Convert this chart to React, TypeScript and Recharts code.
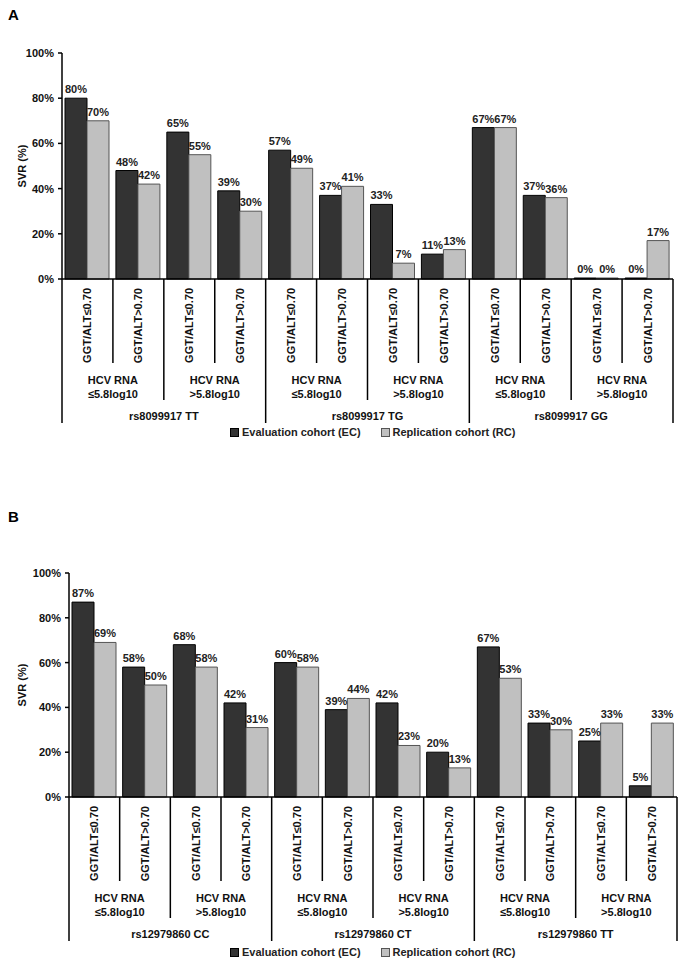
import React from "react";
import { BarChart, Bar, XAxis, YAxis, LabelList } from "recharts";

// sub-group (rotated) tick labels, same for both panels
const subgroups = [
  "GGT/ALT≤0.70", "GGT/ALT>0.70", "GGT/ALT≤0.70", "GGT/ALT>0.70",
  "GGT/ALT≤0.70", "GGT/ALT>0.70", "GGT/ALT≤0.70", "GGT/ALT>0.70",
  "GGT/ALT≤0.70", "GGT/ALT>0.70", "GGT/ALT≤0.70", "GGT/ALT>0.70",
];
const rnaGroups = ["≤5.8log10", ">5.8log10", "≤5.8log10", ">5.8log10", "≤5.8log10", ">5.8log10"];
const genotypesA = ["rs8099917 TT", "rs8099917 TG", "rs8099917 GG"];
const genotypesB = ["rs12979860 CC", "rs12979860 CT", "rs12979860 TT"];

const ecA = [80, 48, 65, 39, 57, 37, 33, 11, 67, 37, 0, 0];
const rcA = [70, 42, 55, 30, 49, 41, 7, 13, 67, 36, 0, 17];
const ecB = [87, 58, 68, 42, 60, 39, 42, 20, 67, 33, 25, 5];
const rcB = [69, 50, 58, 31, 58, 44, 23, 13, 53, 30, 33, 33];

const yTicks = [0, 20, 40, 60, 80, 100];

const FONT = "'Liberation Sans', Arial, sans-serif";
const DARK = "#333333";
const LIGHT = "#c0c0c0";

function makeRows(ec: number[], rc: number[]) {
  return ec.map((v, i) => ({ key: String(i), ec: v, rc: rc[i] }));
}

function MultiTick(props: any) {
  const { x, y, payload, band, genotypes } = props;
  const i = payload.index;
  const n = subgroups.length;
  const left = x - band / 2;
  const depth = i % 4 === 0 ? 144 : i % 2 === 0 ? 121 : 84;
  const txt = { fontFamily: FONT, fontWeight: "bold" as const, fill: "#111" };
  return (
    <g>
      <line x1={left} x2={left} y1={y} y2={y + depth} stroke="#000" strokeWidth={1.5} />
      {i === n - 1 && (
        <line x1={x + band / 2} x2={x + band / 2} y1={y} y2={y + 144} stroke="#000" strokeWidth={1.5} />
      )}
      <text
        transform={`translate(${x},${y + 9}) rotate(-90)`}
        textAnchor="end"
        dominantBaseline="central"
        fontSize={11}
        {...txt}
      >
        {subgroups[i]}
      </text>
      {i % 2 === 0 && (
        <text x={x + band / 2} y={y + 105} textAnchor="middle" fontSize={11} {...txt}>
          <tspan x={x + band / 2}>HCV RNA</tspan>
          <tspan x={x + band / 2} dy={14}>{rnaGroups[i / 2]}</tspan>
        </text>
      )}
      {i % 4 === 0 && (
        <text x={x + band * 1.5} y={y + 141} textAnchor="middle" fontSize={11} {...txt}>
          {genotypes[i / 4]}
        </text>
      )}
    </g>
  );
}

function Legend({ top }: { top: number }) {
  const item = (color: string, border: string, label: string) => (
    <span style={{ display: "inline-flex", alignItems: "center", marginRight: 20 }}>
      <span
        style={{
          display: "inline-block",
          width: 7,
          height: 7,
          background: color,
          border: `1px solid ${border}`,
          marginRight: 3,
        }}
      />
      {label}
    </span>
  );
  return (
    <div
      style={{
        position: "absolute",
        top,
        left: 230,
        fontFamily: FONT,
        fontWeight: "bold",
        fontSize: 11,
        color: "#222",
        whiteSpace: "nowrap",
      }}
    >
      {item(DARK, "#000", "Evaluation cohort (EC)")}
      {item(LIGHT, "#555", "Replication cohort (RC)")}
    </div>
  );
}

const labelStyle = { fontSize: 11, fontWeight: "bold", fill: "#222", fontFamily: FONT };

function Panel(props: {
  top: number;
  height: number;
  marginTop: number;
  marginBottom: number;
  axisWidth: number;
  marginRight: number;
  axisHeight: number;
  ec: number[];
  rc: number[];
  genotypes: string[];
}) {
  const width = 687;
  const rows = makeRows(props.ec, props.rc);
  const band = (width - props.axisWidth - props.marginRight) / rows.length;
  return (
    <div style={{ position: "absolute", top: props.top, left: 0 }}>
      <BarChart
        width={width}
        height={props.height}
        data={rows}
        margin={{ top: props.marginTop, right: props.marginRight, bottom: props.marginBottom, left: 0 }}
        barCategoryGap={3}
        barGap={0}
      >
        <XAxis
          dataKey="key"
          interval={0}
          height={props.axisHeight}
          tickSize={0}
          tickMargin={0}
          tickLine={false}
          axisLine={{ stroke: "#000", strokeWidth: 1.5 }}
          tick={<MultiTick band={band} genotypes={props.genotypes} />}
        />
        <YAxis
          width={props.axisWidth}
          domain={[0, 100]}
          ticks={yTicks}
          interval={0}
          tickFormatter={(v: number) => `${v}%`}
          tickSize={4}
          tickMargin={4}
          tickLine={{ stroke: "#000", strokeWidth: 1.5 }}
          axisLine={{ stroke: "#000", strokeWidth: 1.5 }}
          tick={{ fontSize: 11, fontWeight: "bold", fill: "#111", fontFamily: FONT }}
          label={{
            content: (lp: any) => {
              const vb = lp.viewBox || {};
              const cy = (vb.y ?? 0) + (vb.height ?? 0) / 2;
              return (
                <text
                  transform={`translate(22,${cy}) rotate(-90)`}
                  textAnchor="middle"
                  dominantBaseline="central"
                  fontSize={11}
                  fontWeight="bold"
                  fontFamily={FONT}
                  fill="#111"
                >
                  SVR (%)
                </text>
              );
            },
          }}
        />
        <Bar dataKey="ec" fill={DARK} stroke="#000" strokeWidth={1} minPointSize={1} isAnimationActive={false}>
          <LabelList dataKey="ec" position="top" offset={5} formatter={(v: any) => `${v}%`} style={labelStyle} />
        </Bar>
        <Bar dataKey="rc" fill={LIGHT} stroke="#555" strokeWidth={1} minPointSize={1} isAnimationActive={false}>
          <LabelList dataKey="rc" position="top" offset={5} formatter={(v: any) => `${v}%`} style={labelStyle} />
        </Bar>
      </BarChart>
    </div>
  );
}

export default function App() {
  return (
    <div
      style={{
        position: "absolute",
        top: 0,
        left: 0,
        width: 687,
        height: 964,
        background: "#fff",
        fontFamily: FONT,
      }}
    >
      <div style={{ position: "absolute", top: 6, left: 8, fontSize: 15, fontWeight: "bold" }}>A</div>
      <Panel
        top={0}
        height={445}
        marginTop={53}
        marginBottom={21}
        axisWidth={62}
        marginRight={14}
        axisHeight={145}
        ec={ecA}
        rc={rcA}
        genotypes={genotypesA}
      />
      <Legend top={426} />
      <div style={{ position: "absolute", top: 508, left: 8, fontSize: 15, fontWeight: "bold" }}>B</div>
      <Panel
        top={470}
        height={494}
        marginTop={103}
        marginBottom={24}
        axisWidth={69}
        marginRight={10}
        axisHeight={143}
        ec={ecB}
        rc={rcB}
        genotypes={genotypesB}
      />
      <Legend top={946} />
    </div>
  );
}
